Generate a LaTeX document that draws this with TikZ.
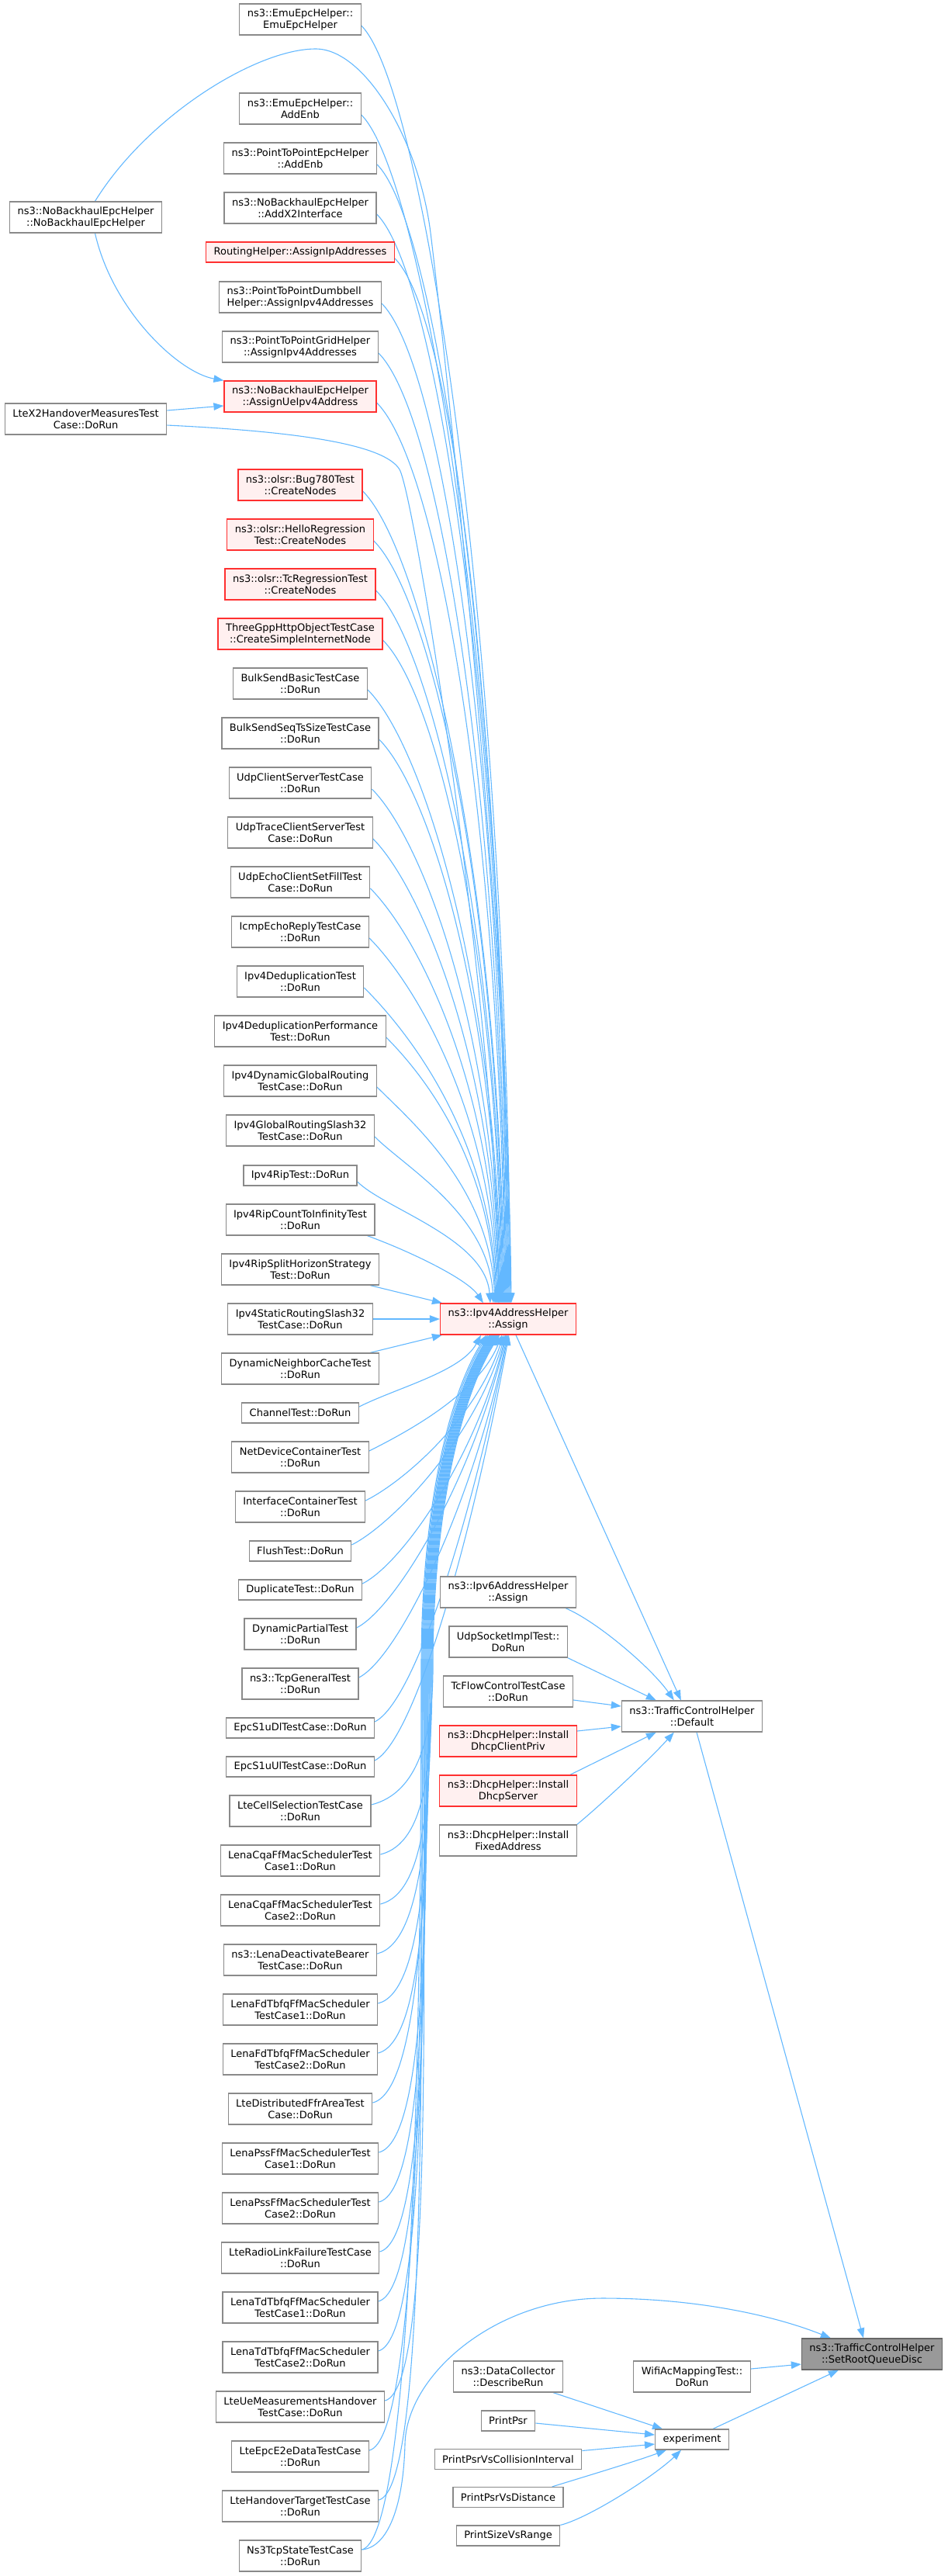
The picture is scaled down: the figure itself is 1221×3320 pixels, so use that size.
\documentclass[tikz,border=0pt]{standalone}
\usepackage{fontspec}
\setmainfont{DejaVu Sans}
\usetikzlibrary{arrows.meta,calc}
\definecolor{edgec}{HTML}{63B8FF}
\definecolor{boxc}{HTML}{8A8A8A}
\definecolor{redc}{HTML}{FF3030}
\definecolor{redfill}{HTML}{FFF0F0}
\definecolor{rootfill}{HTML}{999999}
\definecolor{rootdraw}{HTML}{666666}
\pgfdeclarelayer{bg}
\pgfsetlayers{bg,main}
% edge from a caller above Ipv4AddressHelper::Assign
\newcommand\eA[4]{\draw[edge] ($(#1.east)+(0,8)$) .. controls +(#3,#3) and +(-6,-#4) .. ($(T.north west)+(#2,0)$);}
% edge from a near caller below
\newcommand\eB[4]{\draw[edge] ($(#1.east)+(0,-8)$) .. controls +(50,-25) and +(#3,#4) .. ($(T.south west)+(#2,0)$);}
% edge from a far caller below, through the lane
\newcommand\eL[4]{\draw[edge] ($(#1.east)+(0,-8)$) .. controls +(60,-15) and (#3,#4) .. (#3,2150)
  .. controls (#3,1950) and ($(T.south west)+(#2-50,80)$) .. ($(T.south west)+(#2,0)$);}
\begin{document}
\begin{tikzpicture}[x=1pt,y=-1pt,
  every node/.style={font=\fontsize{13}{15}\selectfont},
  box/.style={draw=boxc, line width=1.25pt, fill=white, align=center, inner xsep=10pt, inner ysep=2pt, minimum height=40pt},
  box1/.style={box, minimum height=26pt},
  redb/.style={draw=redc, fill=redfill},
  rootb/.style={draw=rootdraw, fill=rootfill},
  edge/.style={draw=edgec, line width=1.1pt, -{Triangle[length=13pt,width=9.5pt]}}]
\useasboundingbox (0,0) rectangle (1221,3320);
% column 1
\node[box] (nbh) at (110.5,280) {ns3::NoBackhaulEpcHelper\\::NoBackhaulEpcHelper};
\node[box] (x2h) at (110.5,540) {LteX2HandoverMeasuresTest\\Case::DoRun};
% column 2
\node[box] (n1) at (387,25) {ns3::EmuEpcHelper::\\EmuEpcHelper};
\node[box] (n2) at (387,140) {ns3::EmuEpcHelper::\\AddEnb};
\node[box] (n3) at (387,204) {ns3::PointToPointEpcHelper\\::AddEnb};
\node[box] (n4) at (387,268) {ns3::NoBackhaulEpcHelper\\::AddX2Interface};
\node[box1,redb] (n5) at (387,325) {RoutingHelper::AssignIpAddresses};
\node[box,align=left] (n6) at (387,383) {ns3::PointToPointDumbbell\\Helper::AssignIpv4Addresses};
\node[box] (n7) at (387,447) {ns3::PointToPointGridHelper\\::AssignIpv4Addresses};
\node[box,redb] (n8) at (387,511) {ns3::NoBackhaulEpcHelper\\::AssignUeIpv4Address};
\node[box,redb] (n9) at (387,625) {ns3::olsr::Bug780Test\\::CreateNodes};
\node[box,redb] (n10) at (387,689) {ns3::olsr::HelloRegression\\Test::CreateNodes};
\node[box,redb] (n11) at (387,753) {ns3::olsr::TcRegressionTest\\::CreateNodes};
\node[box,redb] (n12) at (387,817) {ThreeGppHttpObjectTestCase\\::CreateSimpleInternetNode};
\node[box] (n13) at (387,881) {BulkSendBasicTestCase\\::DoRun};
\node[box] (n14) at (387,945) {BulkSendSeqTsSizeTestCase\\::DoRun};
\node[box] (n15) at (387,1009) {UdpClientServerTestCase\\::DoRun};
\node[box] (n16) at (387,1073) {UdpTraceClientServerTest\\Case::DoRun};
\node[box] (n17) at (387,1137) {UdpEchoClientSetFillTest\\Case::DoRun};
\node[box] (n18) at (387,1201) {IcmpEchoReplyTestCase\\::DoRun};
\node[box] (n19) at (387,1265) {Ipv4DeduplicationTest\\::DoRun};
\node[box] (n20) at (387,1329) {Ipv4DeduplicationPerformance\\Test::DoRun};
\node[box] (n21) at (387,1393) {Ipv4DynamicGlobalRouting\\TestCase::DoRun};
\node[box] (n22) at (387,1457) {Ipv4GlobalRoutingSlash32\\TestCase::DoRun};
\node[box1] (n23) at (387,1515) {Ipv4RipTest::DoRun};
\node[box] (n24) at (387,1572) {Ipv4RipCountToInfinityTest\\::DoRun};
\node[box] (n25) at (387,1636) {Ipv4RipSplitHorizonStrategy\\Test::DoRun};
\node[box] (n26) at (387,1700) {Ipv4StaticRoutingSlash32\\TestCase::DoRun};
\node[box] (n27) at (387,1764) {DynamicNeighborCacheTest\\::DoRun};
\node[box1] (n28) at (387,1821) {ChannelTest::DoRun};
\node[box] (n29) at (387,1878) {NetDeviceContainerTest\\::DoRun};
\node[box] (n30) at (387,1942) {InterfaceContainerTest\\::DoRun};
\node[box1] (n31) at (387,1999) {FlushTest::DoRun};
\node[box1] (n32) at (387,2049) {DuplicateTest::DoRun};
\node[box] (n33) at (387,2106) {DynamicPartialTest\\::DoRun};
\node[box] (n34) at (387,2170) {ns3::TcpGeneralTest\\::DoRun};
\node[box1] (n35) at (387,2227) {EpcS1uDlTestCase::DoRun};
\node[box1] (n36) at (387,2277) {EpcS1uUlTestCase::DoRun};
\node[box] (n37) at (387,2334) {LteCellSelectionTestCase\\::DoRun};
\node[box] (n38) at (387,2398) {LenaCqaFfMacSchedulerTest\\Case1::DoRun};
\node[box] (n39) at (387,2462) {LenaCqaFfMacSchedulerTest\\Case2::DoRun};
\node[box] (n40) at (387,2526) {ns3::LenaDeactivateBearer\\TestCase::DoRun};
\node[box] (n41) at (387,2590) {LenaFdTbfqFfMacScheduler\\TestCase1::DoRun};
\node[box] (n42) at (387,2654) {LenaFdTbfqFfMacScheduler\\TestCase2::DoRun};
\node[box] (n43) at (387,2718) {LteDistributedFfrAreaTest\\Case::DoRun};
\node[box] (n44) at (387,2782) {LenaPssFfMacSchedulerTest\\Case1::DoRun};
\node[box] (n45) at (387,2846) {LenaPssFfMacSchedulerTest\\Case2::DoRun};
\node[box] (n46) at (387,2910) {LteRadioLinkFailureTestCase\\::DoRun};
\node[box] (n47) at (387,2974) {LenaTdTbfqFfMacScheduler\\TestCase1::DoRun};
\node[box] (n48) at (387,3038) {LenaTdTbfqFfMacScheduler\\TestCase2::DoRun};
\node[box] (n49) at (387,3102) {LteUeMeasurementsHandover\\TestCase::DoRun};
\node[box] (n50) at (387,3166) {LteEpcE2eDataTestCase\\::DoRun};
\node[box] (n51) at (387,3230) {LteHandoverTargetTestCase\\::DoRun};
\node[box] (n52) at (387,3294) {Ns3TcpStateTestCase\\::DoRun};
% column 3
\node[box,redb] (T) at (655,1700) {ns3::Ipv4AddressHelper\\::Assign};
\node[box] (ipv6) at (655,2052) {ns3::Ipv6AddressHelper\\::Assign};
\node[box] (udps) at (655,2116) {UdpSocketImplTest::\\DoRun};
\node[box] (tcf) at (655,2180) {TcFlowControlTestCase\\::DoRun};
\node[box,redb] (dcp) at (655,2244) {ns3::DhcpHelper::Install\\DhcpClientPriv};
\node[box,redb] (dsrv) at (655,2308) {ns3::DhcpHelper::Install\\DhcpServer};
\node[box] (dfa) at (655,2372) {ns3::DhcpHelper::Install\\FixedAddress};
\node[box] (dcoll) at (655,3063) {ns3::DataCollector\\::DescribeRun};
\node[box1] (ppsr) at (655,3120) {PrintPsr};
\node[box1] (pcoll) at (655,3169.5) {PrintPsrVsCollisionInterval};
\node[box1] (pdist) at (655,3218.5) {PrintPsrVsDistance};
\node[box1] (psize) at (655,3268) {PrintSizeVsRange};
% column 4
\node[box] (D) at (892,2212) {ns3::TrafficControlHelper\\::Default};
\node[box] (wifi) at (892,3063) {WifiAcMappingTest::\\DoRun};
\node[box1] (exp) at (892,3144) {experiment};
% column 5
\node[box,rootb] (SR) at (1124,3034) {ns3::TrafficControlHelper\\::SetRootQueueDisc};

\begin{pgfonlayer}{bg}
% edges into Ipv4AddressHelper::Assign from above
\draw[edge] ($(nbh.north)+(12,0)$) .. controls (190,150) and (330,63) .. (407,63)
  .. controls (470,63) and (540,180) .. (555,300)
  .. controls (570,420) and (655,1200) .. ($(T.north west)+(92,0)$);
\draw[edge] ($(nbh.south)+(12,0)$) .. controls (145,400) and (230,480) .. (n8.north west);
\draw[edge] ($(x2h.east)+(0,-11)$) -- ($(n8.west)+(0,12)$);
\draw[edge] ($(x2h.east)+(0,8)$) .. controls (380,556) and (495,572) .. (515,605)
  .. controls (535,640) and (640,1300) .. ($(T.north west)+(76,0)$);
\eA{n1}{91}{80}{873}
\eA{n2}{90}{80}{812}
\eA{n3}{89}{80}{778}
\eA{n4}{88}{80}{744}
\eA{n5}{87}{80}{714}
\eA{n6}{86}{80}{683}
\eA{n7}{85}{80}{649}
\eA{n8}{84}{80}{615}
\eA{n9}{83}{75}{555}
\eA{n10}{82}{75}{521}
\eA{n11}{81}{70}{487}
\eA{n12}{80}{70}{453}
\eA{n13}{79}{70}{419}
\eA{n14}{78}{65}{385}
\eA{n15}{77}{65}{351}
\eA{n16}{76}{60}{317}
\eA{n17}{75}{60}{284}
\eA{n18}{74}{55}{250}
\eA{n19}{73}{55}{216}
\eA{n20}{72}{50}{182}
\eA{n21}{71}{45}{148}
\eA{n22}{69}{40}{114}
\eA{n23}{65}{35}{83}
\draw[edge] ($(n24.south east)+(-10,0)$) .. controls +(60,22) and +(-20,-30) .. ($(T.north west)+(56,0)$);
\draw[edge] ($(n25.south east)+(-12,0)$) -- ($(T.north west)+(3,0)$);
\draw[edge] (n26.east) -- (T.west);
\draw[edge] ($(n27.north east)+(-12,0)$) -- ($(T.south west)+(3,0)$);
% edges into Ipv4AddressHelper::Assign from below
\eB{n28}{53}{-25}{47}
\eB{n29}{80}{-30}{75}
\eB{n30}{82}{-35}{107}
\eB{n31}{84}{-40}{136}
\eB{n32}{85}{-40}{161}
\eB{n33}{86}{-45}{189}
\eB{n34}{87}{-45}{221}
\eB{n35}{88}{-50}{250}
\eB{n36}{89}{-50}{275}
\eL{n37}{77}{558}{2238}
\eL{n38}{76}{557}{2270}
\eL{n39}{75}{556}{2302}
\eL{n40}{74}{555}{2334}
\eL{n41}{73}{554}{2366}
\eL{n42}{72}{553}{2398}
\eL{n43}{71}{552}{2430}
\eL{n44}{70}{551}{2462}
\eL{n45}{69}{550}{2494}
\eL{n46}{68}{549}{2526}
\eL{n47}{67}{548}{2558}
\eL{n48}{66}{547}{2590}
\eL{n49}{65}{546}{2622}
\eL{n50}{64}{545}{2654}
\eL{n51}{62}{544}{2686}
\eL{n52}{60}{543}{2718}
% Ns3TcpStateTestCase -> SetRootQueueDisc
\draw[edge] ($(n52.east)+(0,-8)$) .. controls (500,3283) and (520,3230) .. (522,3150)
  .. controls (524,3060) and (640,2962) .. (777,2962)
  .. controls (900,2962) and (1000,2985) .. ($(SR.north west)+(38,0)$);
% into TrafficControlHelper::Default
\draw[edge] ($(T.south)+(10,0)$) -- ($(D.north west)+(77,0)$);
\draw[edge] ($(ipv6.south east)+(-14,0)$) .. controls (770,2090) and (840,2150) .. ($(D.north west)+(68,0)$);
\draw[edge] (udps.south east) -- ($(D.north west)+(45,0)$);
\draw[edge] ($(tcf.east)+(0,11)$) -- ($(D.west)+(0,-13)$);
\draw[edge] ($(dcp.east)+(0,-13)$) -- ($(D.west)+(0,13)$);
\draw[edge] ($(dsrv.north east)+(-9,0)$) -- ($(D.south west)+(45,0)$);
\draw[edge] (dfa.north east) .. controls (770,2330) and (835,2270) .. ($(D.south west)+(68,0)$);
% into SetRootQueueDisc
\draw[edge] ($(D.south)+(6,0)$) -- ($(SR.north)+(-11,0)$);
\draw[edge] ($(wifi.east)+(0,-10)$) -- ($(SR.west)+(0,13)$);
\draw[edge] ($(exp.north east)+(-21,0)$) -- ($(SR.south west)+(48,0)$);
% into experiment
\draw[edge] ($(dcoll.south east)+(-13,0)$) -- ($(exp.north west)+(10,0)$);
\draw[edge] ($(ppsr.east)+(0,3)$) -- ($(exp.west)+(0,-6)$);
\draw[edge] ($(pcoll.east)+(0,-11)$) -- ($(exp.west)+(0,6)$);
\draw[edge] ($(pdist.north east)+(-15,0)$) .. controls (760,3190) and (820,3172) .. ($(exp.south west)+(15,0)$);
\draw[edge] (psize.north east) .. controls (760,3245) and (845,3190) .. ($(exp.south west)+(34,0)$);
\end{pgfonlayer}
\end{tikzpicture}
\end{document}
